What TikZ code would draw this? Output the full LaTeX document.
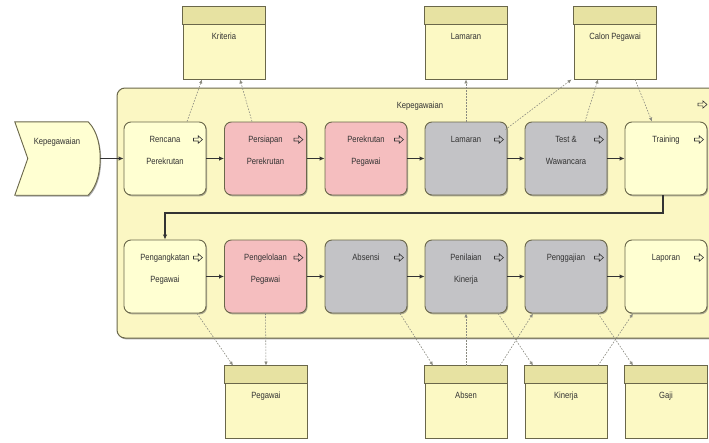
\documentclass[tikz,border=0pt]{standalone}
\usepackage{fontspec}
\setmainfont{Liberation Sans}[FakeStretch=0.85]
\usetikzlibrary{arrows.meta,shadows,calc}

\definecolor{edgecol}{HTML}{6A674A}
\definecolor{contfill}{HTML}{FBF7C3}
\definecolor{ylwfill}{HTML}{FFFFD2}
\definecolor{pinkfill}{HTML}{F5BEBF}
\definecolor{grayfill}{HTML}{C3C3C6}
\definecolor{bandfill}{HTML}{E7E2A2}
\definecolor{datafill}{HTML}{FCF9C4}
\definecolor{txtcol}{HTML}{333333}
\definecolor{acccol}{HTML}{8A8A80}

\tikzset{
  shade box/.style={drop shadow={shadow xshift=1pt, shadow yshift=-1.3pt, fill=black!60, opacity=0.55}},
  container/.style={draw=edgecol, line width=1pt, fill=contfill, rounded corners=8pt,
    minimum width=608pt, minimum height=250pt, inner sep=0pt, shade box},
  procbox/.style={draw=edgecol, line width=0.9pt, rounded corners=7pt,
    minimum width=82pt, minimum height=73pt, inner sep=0pt, shade box},
  dataobj/.style={draw=edgecol, line width=0.9pt, fill=datafill,
    minimum width=82pt, minimum height=72pt, inner sep=0pt, shade box},
  eventbox/.style={minimum width=85pt, minimum height=73pt, inner sep=0pt},
  ptext/.style={text=txtcol, font=\fontsize{9}{22}\selectfont, align=center, inner sep=0pt},
  proc icon/.style={draw=txtcol, line width=0.6pt, line join=miter},
  flow/.style={draw=txtcol, line width=1.1pt, -{Latex[length=5pt,width=4.5pt]}},
  access/.style={draw=acccol, line width=0.6pt, dash pattern=on 1.6pt off 1.4pt,
    -{Latex[length=4pt,width=3.5pt]}},
}

% process box with title text and the process icon
\newcommand\procnode[5]{%
  \node[procbox, fill=#4] (#1) at (#2,#3) {};
  \node[ptext, anchor=north] (#1-t) at ([yshift=-14.5pt]#1.north) {#5};
  \draw[proc icon] ([xshift=-13pt,yshift=-18pt]#1.north east)
    ++(0,-1.4) -- ++(4.8,0) -- ++(0,-2.3) -- ++(4.2,3.7) -- ++(-4.2,3.7)
    -- ++(0,-2.3) -- ++(-4.8,0) -- cycle;
}
% data object with header band
\newcommand\datanode[4]{%
  \node[dataobj] (#1) at (#2,#3) {};
  \draw[draw=edgecol, line width=0.9pt, fill=bandfill]
    (#1.north west) rectangle ([yshift=-18pt]#1.north east);
  \node[ptext, anchor=north] (#1-t) at ([yshift=-26.5pt]#1.north) {#4};
}

\begin{document}
\begin{tikzpicture}[x=1pt,y=-1pt]
\useasboundingbox (0,0) rectangle (709,442);
\clip (0,0) rectangle (709,442);
\fill[white] (0,0) rectangle (709,442);

% grouping container
\node[container] (kp) at (421,213) {};
\node[ptext, anchor=base] (kp-t) at (420,108) {Kepegawaian};
\draw[proc icon] (698,104.5) ++(0,-1.4) -- ++(4.8,0) -- ++(0,-2.3) -- ++(4.2,3.7)
  -- ++(-4.2,3.7) -- ++(0,-2.3) -- ++(-4.8,0) -- cycle;

% triggering event
\node[eventbox] (ev) at (57.5,158.5) {};
\draw[draw=edgecol, line width=0.9pt, fill=ylwfill, shade box]
  (ev.north west) -- ([xshift=-12pt]ev.north east)
  .. controls ([xshift=-2pt,yshift=-10pt]ev.north east) and ([yshift=10pt]ev.east) .. (ev.east)
  .. controls ([yshift=-10pt]ev.east) and ([xshift=-2pt,yshift=10pt]ev.south east) .. ([xshift=-12pt]ev.south east)
  -- (ev.south west) -- ([xshift=13pt]ev.west) -- cycle;
\node[ptext, anchor=base] (ev-t) at (57,144) {Kepegawaian};

% first row of processes
\procnode{rp}{165}{158.5}{ylwfill}{Rencana\\Perekrutan}
\procnode{ps}{265.5}{158.5}{pinkfill}{Persiapan\\Perekrutan}
\procnode{pr}{366}{158.5}{pinkfill}{Perekrutan\\Pegawai}
\procnode{lam}{466}{158.5}{grayfill}{Lamaran}
\procnode{tw}{566}{158.5}{grayfill}{Test \&\\Wawancara}
\procnode{tr}{666}{158.5}{ylwfill}{Training}

% second row of processes
\procnode{pa}{165}{276.5}{ylwfill}{Pengangkatan\\Pegawai}
\procnode{pe}{265.5}{276.5}{pinkfill}{Pengelolaan\\Pegawai}
\procnode{ab}{366}{276.5}{grayfill}{Absensi}
\procnode{pk}{466}{276.5}{grayfill}{Penilaian\\Kinerja}
\procnode{pg}{566}{276.5}{grayfill}{Penggajian}
\procnode{lp}{666}{276.5}{ylwfill}{Laporan}

% data objects
\datanode{dkr}{224}{43}{Kriteria}
\datanode{dlm}{466}{43}{Lamaran}
\datanode{dcp}{615}{43}{Calon Pegawai}
\datanode{dpw}{266}{402}{Pegawai}
\datanode{dab}{466}{402}{Absen}
\datanode{dkn}{566}{402}{Kinerja}
\datanode{dgj}{666}{402}{Gaji}

% triggering and flow relations
\draw[flow] (ev.east) -- (rp.west);
\draw[flow] (rp) -- (ps);
\draw[flow] (ps) -- (pr);
\draw[flow] (pr) -- (lam);
\draw[flow] (lam) -- (tw);
\draw[flow] (tw) -- (tr);
\draw[flow] ([xshift=-3pt]tr.south) -- ++(0,17.5) -| (pa.north);
\draw[flow] (pa) -- (pe);
\draw[flow] (pe) -- (ab);
\draw[flow] (ab) -- (pk);
\draw[flow] (pk) -- (pg);
\draw[flow] (pg) -- (lp);

% access relations, upper row
\draw[access] ([xshift=22pt]rp.north) -- ([xshift=-22pt]dkr.south);
\draw[access] ([xshift=-13.5pt]ps.north) -- ([xshift=16pt]dkr.south);
\draw[access] (lam.north) -- (dlm.south);
\draw[access] ([xshift=-2pt,yshift=-8pt]lam.north east) -- ([xshift=-2pt]dcp.south west);
\draw[access] ([xshift=19pt]tw.north) -- ([xshift=-17pt]dcp.south);
\draw[access] ([xshift=20pt]dcp.south) -- ([xshift=-14pt]tr.north);

% access relations, lower row
\draw[access] ([xshift=32pt]pa.south) -- ([xshift=-33pt]dpw.north);
\draw[access] (pe.south) -- (dpw.north);
\draw[access] ([xshift=34pt]ab.south) -- ([xshift=-33pt]dab.north);
\draw[access] (dab.north) -- (pk.south);
\draw[access] ([xshift=32pt]pk.south) -- ([xshift=-33pt]dkn.north);
\draw[access] ([xshift=34pt]dab.north) -- ([xshift=-33pt]pg.south);
\draw[access] ([xshift=32pt]pg.south) -- ([xshift=-33pt]dgj.north);
\draw[access] ([xshift=32pt]dkn.north) -- ([xshift=-33pt]lp.south);
\end{tikzpicture}
\end{document}
